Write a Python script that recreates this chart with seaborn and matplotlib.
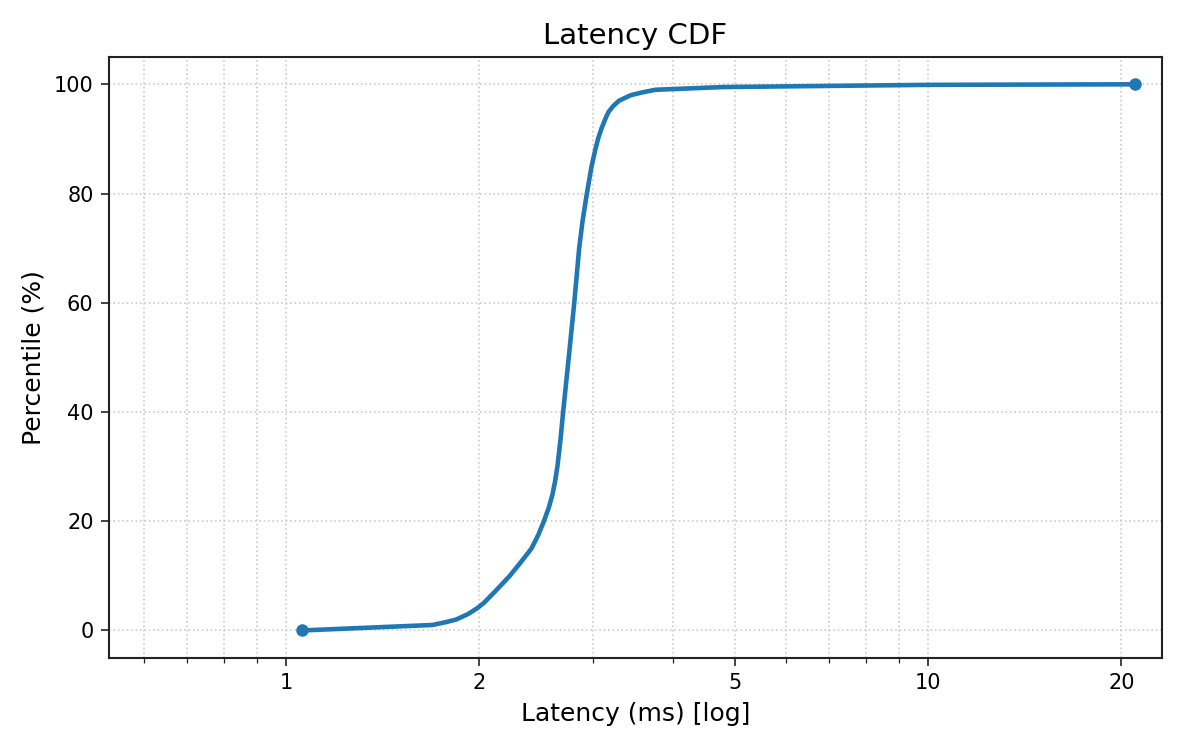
import matplotlib
matplotlib.use("Agg")
import matplotlib.pyplot as plt
import seaborn as sns
import pandas as pd
from matplotlib.ticker import LogLocator, FixedLocator, FixedFormatter, NullFormatter

# Data
percentiles = [0, 1, 1.5, 2, 3, 4, 5, 7, 10, 12.5, 15, 17.5, 20, 22.5, 25, 27.5, 30, 35, 40,
               50, 60, 70, 75, 80, 85, 88, 90, 92, 94, 95, 96, 97, 98, 98.5, 99, 99.5, 99.9, 100]
latency_ms = [1.06, 1.69, 1.77, 1.84, 1.92, 1.98, 2.03, 2.11, 2.23, 2.32, 2.41, 2.47, 2.52, 2.565, 2.60, 2.625, 2.645, 2.675, 2.70,
              2.755, 2.81, 2.86, 2.895, 2.94, 2.99, 3.03, 3.06, 3.10, 3.15, 3.18, 3.23, 3.30, 3.44, 3.58, 3.76, 4.8, 10.0, 21.0]
x_ticks = [1, 2, 5, 10, 20]
x_tick_labels = ["1", "2", "5", "10", "20"]
y_ticks = [0, 20, 40, 60, 80, 100]

sns.set_style("ticks")
plt.rcParams['font.family'] = ['DejaVu Sans']

df = pd.DataFrame({"latency": latency_ms, "pct": percentiles})
ends = df.iloc[[0, -1]]

fig, ax = plt.subplots(figsize=(8, 5), dpi=150)
fig.subplots_adjust(left=0.091, right=0.968, top=0.924, bottom=0.123)

color = "#1f77b4"
sns.lineplot(data=df, x="latency", y="pct", ax=ax, color=color, linewidth=2.2, sort=False)
sns.scatterplot(data=ends, x="latency", y="pct", ax=ax, color=color, s=36, edgecolor=color, linewidth=0, zorder=3)

ax.set_xscale("log")
ax.set_xlim(min(latency_ms) * 0.5, max(latency_ms) * 1.1)
ax.set_ylim(-5, 105)
ax.xaxis.set_major_locator(FixedLocator(x_ticks))
ax.xaxis.set_major_formatter(FixedFormatter(x_tick_labels))
ax.xaxis.set_minor_locator(LogLocator(base=10, subs=range(2, 10)))
ax.xaxis.set_minor_formatter(NullFormatter())
ax.set_yticks(y_ticks)

ax.grid(True, which="both", linestyle=":", color="#cccccc", linewidth=0.8)
for s in ax.spines.values():
    s.set_visible(True)
    s.set_color("#222222")
    s.set_linewidth(1.0)
ax.tick_params(axis="both", which="major", labelsize=10, colors="#222222", labelcolor="black", length=4)
ax.tick_params(axis="x", which="minor", length=2.5, colors="#222222")

ax.set_title("Latency CDF", fontsize=14, color="black")
ax.set_xlabel("Latency (ms) [log]", fontsize=12, color="black")
ax.set_ylabel("Percentile (%)", fontsize=12, color="black")

fig.savefig("out.png", dpi=150)
